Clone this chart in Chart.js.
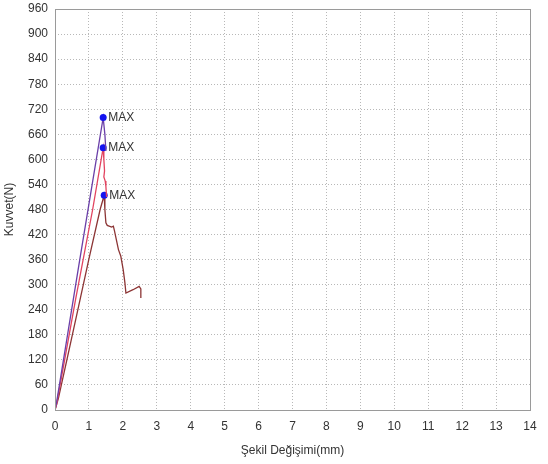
<!DOCTYPE html>
<html>
<head>
<meta charset="utf-8">
<script src="https://cdn.jsdelivr.net/npm/chart.js@4/dist/chart.umd.min.js"></script>
<style>
  html, body { margin: 0; padding: 0; background: #ffffff; }
  #wrap { width: 548px; height: 464px; }
</style>
</head>
<body>
<div id="wrap"><canvas id="c" width="548" height="464"></canvas></div>
<script>
// Axis ticks
const xTicks = [0,1,2,3,4,5,6,7,8,9,10,11,12,13,14];
const yTicks = [0,60,120,180,240,300,360,420,480,540,600,660,720,780,840,900,960];

// Specimen 1 (purple)
const s1x = [0, 0.05, 0.7, 1.42, 1.47, 1.50];
const s1y = [0, 20, 345, 700, 660, 620];

// Specimen 2 (red)
const s2x = [0, 0.05, 0.6, 1.11, 1.42, 1.44, 1.46, 1.44, 1.48, 1.50, 1.52];
const s2y = [0, 15, 262, 480, 628, 600, 572, 558, 548, 535, 510];

// Specimen 3 (brown)
const s3x = [0, 0.1, 0.35, 0.7, 1.0, 1.33, 1.45, 1.47, 1.50, 1.54, 1.67, 1.72, 1.75, 1.87, 1.94, 2.01, 2.06, 2.09, 2.30, 2.48, 2.53, 2.53];
const s3y = [0, 28, 120, 250, 362, 480, 514, 480, 448, 442, 438, 440, 430, 384, 368, 336, 305, 280, 288, 296, 290, 268];

const seriesColors = ['#6a3fa8', '#e2435f', '#8c3535'];
const markerColor = '#1414f0';
const maxLabel = 'MAX';

function pts(xs, ys) { return xs.map((x, i) => ({ x: x, y: ys[i] })); }
function maxIndex(ys) { let m = 0; ys.forEach((v, i) => { if (v > ys[m]) m = i; }); return m; }

const series = [[s1x, s1y], [s2x, s2y], [s3x, s3y]];

const datasets = series.map(([xs, ys], k) => {
  const mi = maxIndex(ys);
  return {
    data: pts(xs, ys),
    showLine: true,
    borderColor: seriesColors[k],
    borderWidth: 1.3,
    tension: 0,
    pointRadius: ys.map((_, i) => i === mi ? 3.5 : 0),
    pointBackgroundColor: markerColor,
    pointBorderColor: markerColor,
    pointBorderWidth: 0,
    maxIdx: mi
  };
});

// Frame around the plot area and MAX labels beside each peak marker
const framePlugin = {
  id: 'frameAndMax',
  afterDatasetsDraw(chart) {
    const { ctx, chartArea: a } = chart;
    ctx.save();
    ctx.strokeStyle = '#9a9a9a';
    ctx.lineWidth = 1;
    ctx.strokeRect(Math.round(a.left) + 0.5, Math.round(a.top) + 0.5,
                   Math.round(a.right - a.left), Math.round(a.bottom - a.top));
    ctx.fillStyle = '#333333';
    ctx.font = '12px "Liberation Sans", Arial, sans-serif';
    ctx.textBaseline = 'middle';
    ctx.textAlign = 'left';
    chart.data.datasets.forEach((ds, i) => {
      const el = chart.getDatasetMeta(i).data[ds.maxIdx];
      ctx.fillText(maxLabel, el.x + 5, el.y + 0.5);
    });
    ctx.restore();
  }
};

const tickFont = { family: '"Liberation Sans", Arial, sans-serif', size: 12 };

new Chart(document.getElementById('c'), {
  type: 'scatter',
  data: { datasets },
  options: {
    responsive: false,
    animation: false,
    layout: { padding: { top: 9, right: 18, left: 0, bottom: 0 } },
    plugins: { legend: { display: false }, tooltip: { enabled: false } },
    scales: {
      x: {
        type: 'linear',
        min: 0, max: 14,
        afterBuildTicks(scale) { scale.ticks = xTicks.map(v => ({ value: v })); },
        afterFit(scale) { scale.height = 54; scale.paddingLeft = 0; scale.paddingRight = 0; },
        grid: { color: '#b8b8b8', drawTicks: false, lineWidth: 1 },
        border: { display: false, dash: [1, 2] },
        ticks: { color: '#333333', font: tickFont, padding: 9, maxRotation: 0 },
        title: { display: true, text: 'Şekil Değişimi(mm)', color: '#333333', font: tickFont, padding: { top: 0, bottom: 6 } }
      },
      y: {
        type: 'linear',
        min: 0, max: 960,
        afterBuildTicks(scale) { scale.ticks = yTicks.map(v => ({ value: v })); },
        afterFit(scale) { scale.width = 55; scale.paddingTop = 0; scale.paddingBottom = 0; },
        grid: { color: '#b8b8b8', drawTicks: false, lineWidth: 1 },
        border: { display: false, dash: [1, 2] },
        ticks: { color: '#333333', font: tickFont, padding: 7 },
        title: { display: true, text: 'Kuvvet(N)', color: '#333333', font: tickFont, padding: { top: 2, bottom: 0 } }
      }
    }
  },
  plugins: [framePlugin]
});
</script>
</body>
</html>
